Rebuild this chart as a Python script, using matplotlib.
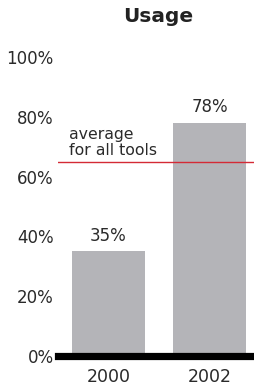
import matplotlib
matplotlib.use("Agg")
import matplotlib.pyplot as plt

years = ["2000", "2002"]
usage = [35, 78]
average = 65
yticks = [0, 20, 40, 60, 80, 100]

plt.rcParams['font.family'] = ['DejaVu Sans']

fig = plt.figure(figsize=(2.55, 3.92), dpi=100)
ax = fig.add_axes([58/255, 36/392, 1 - 58/255, 299/392])

x = list(range(len(years)))
ax.bar(x, usage, width=0.72, color="#b4b4b8", zorder=2)
for xi, v in zip(x, usage):
    ax.text(xi, v + 3.6, f"{v}%", ha="center", va="baseline", fontsize=12, color="#2a2a2a")

ax.axhline(average, color="#d42a35", lw=1, zorder=3)
ax.text(-0.39, average + 2.2, "average\nfor all tools", ha="left", va="baseline",
        fontsize=11.3, color="#2a2a2a", linespacing=1.1)

ax.axhline(0, color="black", lw=5.2, zorder=4, clip_on=False)

ax.set_xlim(-0.5, 1.45)
ax.set_ylim(0, 100)
ax.set_xticks(x)
ax.set_xticklabels(years)
ax.set_yticks(yticks)
ax.set_yticklabels([f"{t}%" for t in yticks])
ax.tick_params(length=0, labelsize=12, colors="#2a2a2a")
ax.tick_params(axis="x", pad=9, labelsize=12.5)
ax.tick_params(axis="y", pad=3)
for s in ax.spines.values():
    s.set_visible(False)

fig.text(158/255, 1 - 17/392, "Usage", ha="center", va="center",
         fontsize=14.5, fontweight="bold", color="#222222")

fig.savefig("out.png", dpi=100)
